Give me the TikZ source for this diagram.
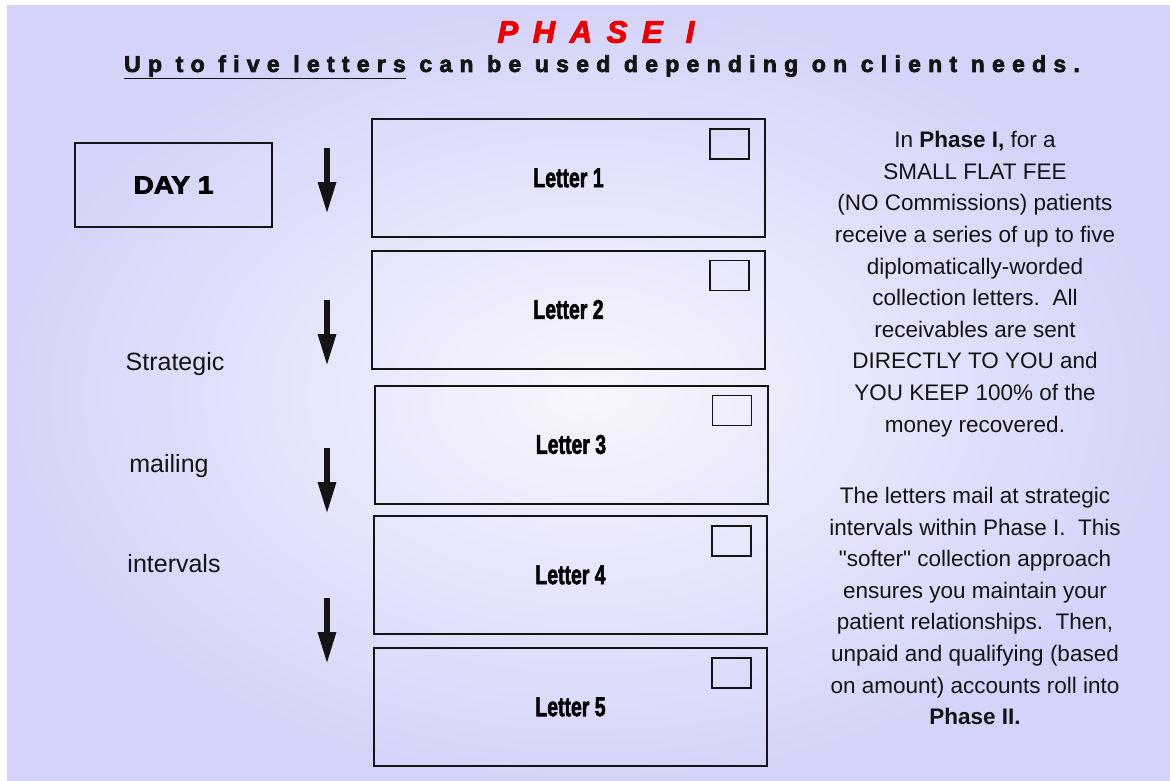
\documentclass[tikz,border=0pt]{standalone}
\usepackage{fontspec}
\usepackage{graphicx}
\setmainfont{Liberation Sans}
\newfontfamily\plainsans{Liberation Sans}
\usetikzlibrary{arrows.meta}
\definecolor{bgout}{RGB}{212,212,250}
\definecolor{bgin}{RGB}{246,246,253}
\definecolor{ink}{RGB}{20,20,20}
\definecolor{titlered}{RGB}{235,0,0}
\tikzset{
  letterbox/.style={draw=ink, line width=2pt, minimum width=393pt, minimum height=118pt, inner sep=0pt,
    font=\fontsize{27}{30}\selectfont\bfseries\addfontfeature{FakeBold=2.5}},
  stampbox/.style={draw=ink, line width=1.6pt},
  daybox/.style={draw=ink, line width=2pt, minimum width=197pt, minimum height=84pt, inner sep=0pt,
    font=\fontsize{25}{30}\selectfont\bfseries\addfontfeature{FakeBold=3}},
  sidetext/.style={text=ink, font=\fontsize{25}{28}\selectfont},
  bodytext/.style={text=ink, align=center, font=\fontsize{22.5}{31.6}\selectfont},
  downarrow/.style={draw=ink, line width=6pt, -{Triangle[width=17pt,length=32pt]}}
}
\newcommand{\lettertext}[1]{\scalebox{0.72}[1]{#1}}
\newcommand{\dq}{{\plainsans"}}
\begin{document}
\begin{tikzpicture}[x=1pt,y=-1pt]
\useasboundingbox (0,0) rectangle (1170,781);
\fill[white] (0,0) rectangle (1170,781);
\shade[inner color=bgin, outer color=bgout] (7,6) rectangle (1170,781);

% titles
\node (title) at (596,32) {\fontsize{31}{33}\selectfont\bfseries\itshape\color{titlered}\addfontfeature{LetterSpace=47,FakeBold=3}PHASE I};
\node (subtitle) at (602,67) {\fontsize{23}{25}\selectfont\bfseries\color{ink}\addfontfeature{LetterSpace=31.5,FakeBold=3}\underline{Up to five letters} can be used depending on client needs.};

% day box
\node[daybox] (day) at (173.5,185) {\scalebox{1.12}[1]{DAY 1}};

% letters
\node[letterbox] (L1) at (568.5,178) {\lettertext{Letter 1}};
\node[letterbox] (L2) at (568.5,309.5) {\lettertext{Letter 2}};
\node[letterbox] (L3) at (571,444.5) {\lettertext{Letter 3}};
\node[letterbox] (L4) at (570.5,575) {\lettertext{Letter 4}};
\node[letterbox] (L5) at (570.5,707) {\lettertext{Letter 5}};
\foreach \n in {L1,L2,L3,L4,L5}{
  \draw[stampbox] ([xshift=-17pt,yshift=-11pt]\n.north east) rectangle ++(-39pt,-30pt);
}

% arrows
\coordinate (a1s) at (327,148); \coordinate (a1e) at (327,214);
\coordinate (a2s) at (327,300); \coordinate (a2e) at (327,366);
\coordinate (a3s) at (327,448); \coordinate (a3e) at (327,514);
\coordinate (a4s) at (327,598); \coordinate (a4e) at (327,664);
\draw[downarrow] (a1s) -- (a1e);
\draw[downarrow] (a2s) -- (a2e);
\draw[downarrow] (a3s) -- (a3e);
\draw[downarrow] (a4s) -- (a4e);

% side labels
\node[sidetext] (s1) at (175,364) {Strategic};
\node[sidetext] (s2) at (169,466) {mailing};
\node[sidetext] (s3) at (174,564) {intervals};

% right text
\node[bodytext] (p1) at (975,284) {In \textbf{Phase I,} for a\\SMALL FLAT FEE\\(NO Commissions) patients\\receive a series of up to five\\diplomatically-worded\\collection letters.\ \ All\\receivables are sent\\DIRECTLY TO YOU and\\YOU KEEP 100\% of the\\money recovered.};
\node[bodytext] (p2) at (975,606) {The letters mail at strategic\\intervals within Phase I.\ \ This\\\dq softer\dq{} collection approach\\ensures you maintain your\\patient relationships.\ \ Then,\\unpaid and qualifying (based\\on amount) accounts roll into\\\textbf{Phase II.}};
\end{tikzpicture}
\end{document}
